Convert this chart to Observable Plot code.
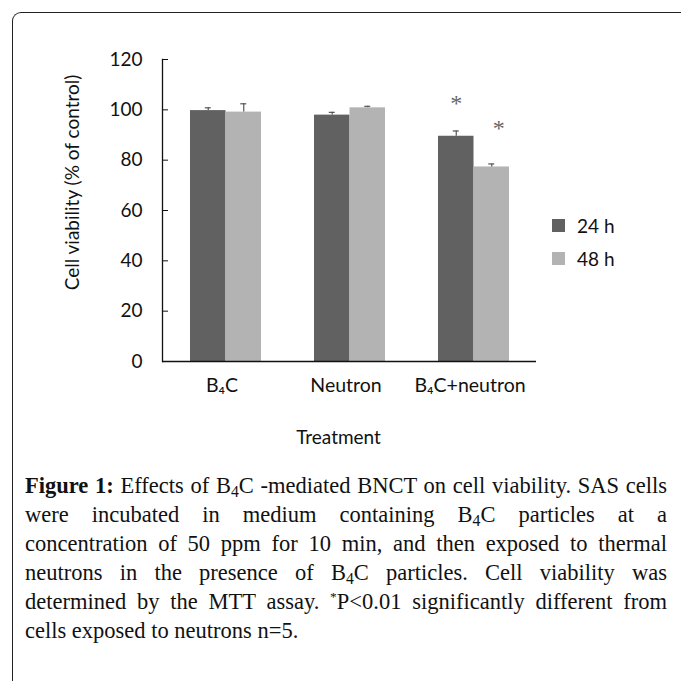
<!DOCTYPE html>
<html>
<head>
<meta charset="utf-8">
<script src="https://cdn.jsdelivr.net/npm/d3@7"></script>
<script src="https://cdn.jsdelivr.net/npm/@observablehq/plot@0.6"></script>
<style>
  html, body { margin: 0; padding: 0; background: #fff; width: 681px; height: 681px; overflow: hidden; }
  #wrap { position: relative; width: 681px; height: 681px; }
  #frame { position: absolute; left: 12px; top: 12px; width: 720px; height: 720px;
           border-left: 1.6px solid #222; border-top: 1.6px solid #222; border-top-left-radius: 9px; }
  #chart { position: absolute; left: 0; top: 0; }
  #legend { position: absolute; left: 552px; top: 209px; font-family: Lato, sans-serif; font-size: 19px; color: #111; }
  .li { display: flex; align-items: center; height: 33px; }
  .sw { width: 13px; height: 13px; margin-right: 12px; }
  #caption { position: absolute; left: 25px; top: 471px; width: 642px; font-family: "Liberation Serif", serif;
             font-size: 22.5px; line-height: 29px; color: #111; }
  #caption .ln { display: block; height: 29px; white-space: nowrap; text-align: justify; text-align-last: justify; }
  #caption .ln.last { text-align: left; text-align-last: left; }
  #caption b { font-weight: bold; }
  sub { font-size: 0.7em; vertical-align: -0.25em; line-height: 0; }
  sup { font-size: 0.6em; vertical-align: 0.6em; line-height: 0; }
</style>
</head>
<body>
<div id="wrap">
  <div id="frame"></div>
  <div id="chart"></div>
  <div id="legend"></div>
  <div id="caption">
    <span class="ln"><b>Figure 1:</b> Effects of B<sub>4</sub>C -mediated BNCT on cell viability. SAS cells</span>
    <span class="ln">were incubated in medium containing B<sub>4</sub>C particles at a</span>
    <span class="ln">concentration of 50 ppm for 10 min, and then exposed to thermal</span>
    <span class="ln">neutrons in the presence of B<sub>4</sub>C particles. Cell viability was</span>
    <span class="ln">determined by the MTT assay. <sup>*</sup>P&lt;0.01 significantly different from</span>
    <span class="ln last">cells exposed to neutrons n=5.</span>
  </div>
</div>
<script>
const categories = ["B₄C", "Neutron", "B₄C+neutron"];
const series = ["24 h", "48 h"];
const values24 = [99.7, 97.9, 89.5];
const values48 = [99.1, 100.8, 77.3];
const err24 = [1.1, 1.1, 2.1];
const err48 = [3.3, 0.6, 1.2];
const sig24 = [false, false, true];
const sig48 = [false, false, true];
const yTicks = [0, 20, 40, 60, 80, 100, 120];
const colors = ["#616161", "#b3b3b3"];

const d24 = categories.map((c, i) => ({treatment: c, time: series[0], value: values24[i], err: err24[i], sig: sig24[i]}));
const d48 = categories.map((c, i) => ({treatment: c, time: series[1], value: values48[i], err: err48[i], sig: sig48[i]}));

const half = 35.5;
const font = "Lato, sans-serif";

const plot = Plot.plot({
  width: 681,
  height: 460,
  marginLeft: 162,
  marginRight: 145,
  marginTop: 59,
  marginBottom: 99,
  style: {fontFamily: font, fontSize: "19px", color: "#111", background: "transparent"},
  x: {type: "band", domain: categories, paddingInner: 0.43, paddingOuter: 0.215, label: null},
  y: {domain: [0, 120], label: null},
  marks: [
    Plot.barY(d24, {x: "treatment", y: "value", fill: colors[0], insetLeft: 0, insetRight: half}),
    Plot.barY(d48, {x: "treatment", y: "value", fill: colors[1], insetLeft: half, insetRight: 0}),
    Plot.ruleX(d24, {x: "treatment", y1: "value", y2: d => d.value + d.err, dx: -half / 2, stroke: "#555", strokeWidth: 1.2}),
    Plot.ruleX(d48, {x: "treatment", y1: "value", y2: d => d.value + d.err, dx: half / 2, stroke: "#555", strokeWidth: 1.2}),
    Plot.tickY(d24, {x: "treatment", y: d => d.value + d.err, insetLeft: 32.5 - half / 2, insetRight: 32.5 + half / 2, stroke: "#555", strokeWidth: 1.2}),
    Plot.tickY(d48, {x: "treatment", y: d => d.value + d.err, insetLeft: 32.5 + half / 2, insetRight: 32.5 - half / 2, stroke: "#555", strokeWidth: 1.2}),
    Plot.text(d24.filter(d => d.sig), {x: "treatment", y: d => d.value + d.err, text: () => "*", dx: -half / 2, dy: -28, fill: "#666", fontSize: 24, fontFamily: "Liberation Serif, serif"}),
    Plot.text(d48.filter(d => d.sig), {x: "treatment", y: d => d.value + d.err, text: () => "*", dx: half / 2 + 7, dy: -36, fill: "#666", fontSize: 24, fontFamily: "Liberation Serif, serif"}),
    Plot.ruleY([0], {stroke: "#111", strokeWidth: 1.3}),
    Plot.frame({anchor: "left", stroke: "#111", strokeWidth: 1.3}),
    Plot.axisY(yTicks, {tickSize: -6, tickPadding: 26, stroke: "#111", fill: "#111", fontSize: 19}),
    Plot.axisX({tickSize: 0, tickPadding: 17, dx: -4, fill: "#111", fontSize: 19.5, label: null}),
    Plot.text(["Cell viability (% of control)"], {frameAnchor: "left", rotate: -90, textAnchor: "middle", dx: -90, dy: -28, fontSize: 19, fill: "#111"}),
    Plot.text(["Treatment"], {frameAnchor: "bottom", textAnchor: "middle", dy: 82, dx: -11, fontSize: 19, fill: "#111"})
  ]
});
document.getElementById("chart").appendChild(plot);

const legend = document.getElementById("legend");
series.forEach((s, i) => {
  const row = document.createElement("div");
  row.className = "li";
  const sw = document.createElement("div");
  sw.className = "sw";
  sw.style.background = colors[i];
  const t = document.createElement("span");
  t.textContent = s;
  row.appendChild(sw);
  row.appendChild(t);
  legend.appendChild(row);
});
</script>
</body>
</html>
